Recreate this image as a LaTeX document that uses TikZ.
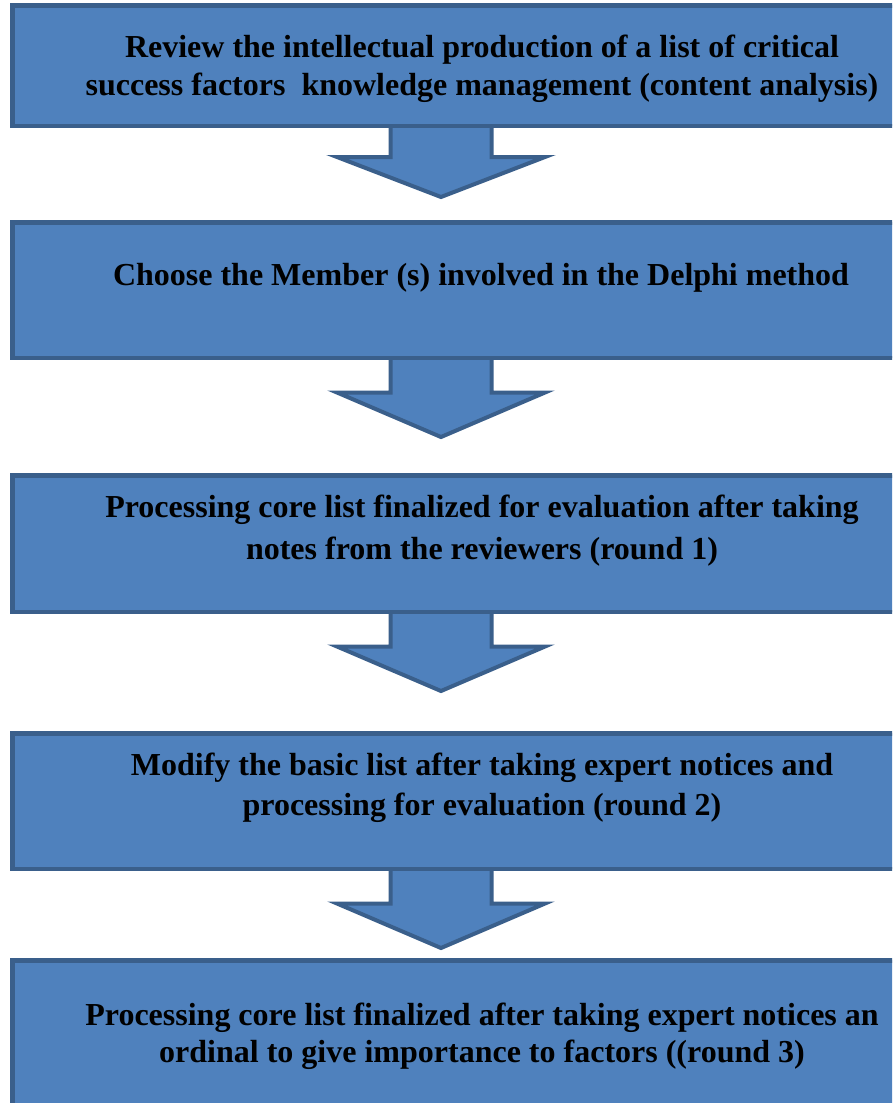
\documentclass[tikz,border=0pt]{standalone}
\usepackage{fontspec}
\setmainfont{Liberation Serif}
\usetikzlibrary{calc}
\definecolor{boxfill}{HTML}{4F81BD}
\definecolor{boxline}{HTML}{3A5F8B}
% #1 source box, #2 target box, #3 shaft length, #4 tip offset
\newcommand\blockarrow[4]{%
  \coordinate (#1-s) at ($(#1.south -| ax)+(0,2.25)$);
  \draw[blk] ($(#1-s)+(-50.5,0)$) -- ($(#1-s)+(-50.5,#3)$) -- ($(#1-s)+(-104,#3)$)
    -- ($(#1-s)+(0,#4)$) coordinate (#1-#2-tip)
    -- ($(#1-s)+(104,#3)$) -- ($(#1-s)+(50.5,#3)$) -- ($(#1-s)+(50.5,0)$);
}
\begin{document}
\begin{tikzpicture}[x=1pt,y=-1pt,
  box/.style={draw=boxline, fill=boxfill, line width=4.5pt, rectangle, inner sep=0pt, outer sep=0pt, anchor=north west, minimum width=948pt},
  lbl/.style={align=center, anchor=base, inner sep=0pt},
  blk/.style={draw=boxline, fill=boxfill, line width=4pt}]
\useasboundingbox (0,0) rectangle (892,1103);
\clip (0,0) rectangle (892,1103);
\fill[white] (0,0) rectangle (892,1103);
\coordinate (ax) at (441,0);
\node[box, minimum height=120.5pt] (b1) at (12.25,5.25) {};
\node[box, minimum height=135.5pt] (b2) at (12.25,222.25) {};
\node[box, minimum height=136.5pt] (b3) at (12.25,475.25) {};
\node[box, minimum height=135.5pt] (b4) at (12.25,733.25) {};
\node[box, minimum height=200pt] (b5) at (12.25,960.25) {};
\blockarrow{b1}{b2}{29}{69}
\blockarrow{b2}{b3}{32.5}{77}
\blockarrow{b3}{b4}{32.5}{77}
\blockarrow{b4}{b5}{32.5}{77}
\node[lbl, font=\fontsize{32}{38}\selectfont\bfseries] (t1) at (482,95) {Review the intellectual production of a list of critical\\success factors~ knowledge management (content analysis)};
\node[lbl, font=\fontsize{32}{38}\selectfont\bfseries] (t2) at (481,285) {Choose the Member (s) involved in the Delphi method};
\node[lbl, font=\fontsize{32}{42}\selectfont\bfseries] (t3) at (482,559) {Processing core list finalized for evaluation after taking\\notes from the reviewers (round 1)};
\node[lbl, font=\fontsize{32}{40}\selectfont\bfseries] (t4) at (482,815) {Modify the basic list after taking expert notices and\\processing for evaluation (round 2)};
\node[lbl, font=\fontsize{32}{37}\selectfont\bfseries] (t5) at (482,1062) {Processing core list finalized after taking expert notices an\\ordinal to give importance to factors ((round 3)};
\end{tikzpicture}
\end{document}
